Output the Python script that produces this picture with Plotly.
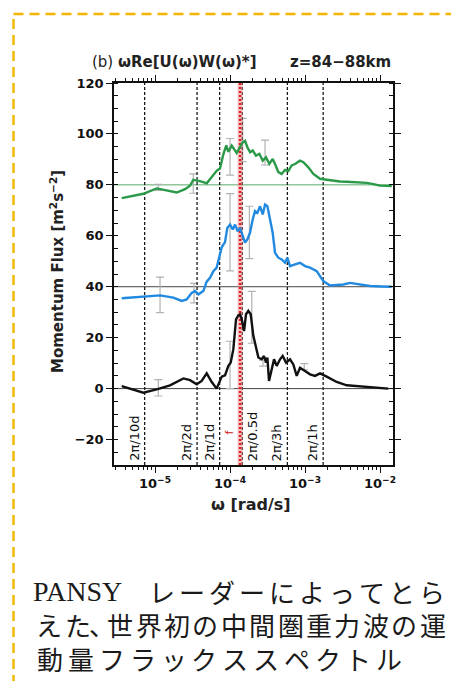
import numpy as np
import plotly.graph_objects as go

# ---------------- data ----------------
# log10 of angular frequency omega [rad/s] and momentum flux as plotted [m^2 s^-2]
black_logw = [-5.444, -5.156, -4.978, -4.800, -4.622, -4.533, -4.444, -4.378, -4.311, -4.244,
              -4.178, -4.111, -4.067, -4.022, -3.991, -3.956, -3.920, -3.889, -3.867, -3.844,
              -3.813, -3.787, -3.756, -3.724, -3.689, -3.653, -3.622, -3.578, -3.547, -3.520,
              -3.502, -3.480, -3.444, -3.413, -3.378, -3.333, -3.298, -3.253, -3.200, -3.156,
              -3.111, -3.067, -3.000, -2.933, -2.867, -2.800, -2.711, -2.578, -2.444, -2.267,
              -2.089, -1.889]
black_flux = [1.0, -1.6, -0.3, 1.3, 4.0, 3.3, 1.7, 3.0, 6.0, 2.6,
              0.0, 4.7, 5.2, 8.9, 10.2, 15.4, 27.2, 28.8, 29.2, 27.2,
              22.6, 29.2, 30.5, 29.2, 20.7, 15.4, 12.2, 11.5, 12.8, 10.2,
              12.2, 3.0, 7.6, 11.5, 8.9, 11.5, 12.8, 10.2, 11.5, 9.5,
              5.0, 8.2, 6.9, 5.6, 5.0, 6.0, 4.7, 2.6, 1.3, 0.8,
              0.3, 0.0]

blue_logw = [-5.444, -5.156, -4.933, -4.756, -4.644, -4.578, -4.511, -4.467, -4.422, -4.356,
             -4.311, -4.267, -4.222, -4.178, -4.133, -4.111, -4.067, -4.036, -4.000, -3.964,
             -3.933, -3.898, -3.867, -3.831, -3.800, -3.769, -3.733, -3.698, -3.667, -3.636,
             -3.600, -3.564, -3.533, -3.502, -3.467, -3.431, -3.400, -3.356, -3.311, -3.267,
             -3.236, -3.200, -3.133, -3.067, -3.000, -2.933, -2.844, -2.756, -2.667, -2.578,
             -2.489, -2.400, -2.311, -2.133, -1.980, -1.844]
blue_flux = [35.5, 36.0, 36.6, 35.7, 34.4, 35.0, 37.6, 38.3, 37.0, 38.3,
             42.0, 43.5, 46.1, 47.5, 53.0, 55.5, 57.5, 63.1, 64.4, 62.5,
             64.4, 61.8, 63.1, 59.9, 57.3, 58.6, 61.2, 66.4, 69.7, 69.0,
             71.6, 68.4, 72.3, 71.6, 66.4, 61.2, 53.3, 51.4, 50.7, 49.4,
             51.4, 48.1, 48.8, 49.4, 48.1, 47.5, 46.1, 42.2, 40.5, 40.7,
             40.9, 41.5, 41.2, 40.3, 40.1, 40.0]

green_logw = [-5.444, -5.156, -4.978, -4.822, -4.711, -4.600, -4.533, -4.489, -4.444, -4.378,
              -4.311, -4.244, -4.178, -4.133, -4.089, -4.050, -4.022, -3.978, -3.947, -3.911,
              -3.867, -3.831, -3.800, -3.769, -3.733, -3.698, -3.653, -3.609, -3.564, -3.520,
              -3.476, -3.431, -3.400, -3.356, -3.311, -3.267, -3.222, -3.178, -3.133, -3.067,
              -3.022, -2.956, -2.889, -2.800, -2.711, -2.622, -2.533, -2.444, -2.356, -2.267,
              -2.178, -2.089, -2.000, -1.844]
green_flux = [74.8, 76.5, 78.6, 77.6, 77.0, 78.3, 79.7, 82.0, 81.8, 81.3,
              80.6, 83.0, 85.5, 86.5, 92.0, 95.5, 93.0, 95.4, 94.1, 92.5,
              94.8, 96.7, 97.3, 94.8, 92.8, 93.5, 91.5, 92.2, 89.5, 90.8,
              88.2, 90.2, 88.2, 85.0, 84.3, 85.9, 85.4, 87.6, 88.2, 89.5,
              88.9, 86.9, 84.3, 82.4, 82.0, 81.6, 81.3, 81.2, 81.0, 80.9,
              80.8, 80.3, 79.7, 79.5]

# error bars: position (log10 omega), centre, half length
black_err_logw = [-4.956, -4.000, -3.710, -3.560, -3.010]
black_err_mid = [0.3, 9.3, 28.0, 10.0, 8.6]
black_err_half = [3.2, 9.3, 10.2, 1.2, 1.2]

blue_err_logw = [-4.933, -4.480, -4.000, -3.742]
blue_err_mid = [36.8, 37.5, 61.4, 61.3]
blue_err_half = [7.0, 3.8, 15.2, 10.3]

green_err_logw = [-4.956, -4.490, -4.000, -3.831, -3.533]
green_err_mid = [79.0, 80.5, 91.0, 97.6, 92.7]
green_err_half = [1.2, 3.8, 7.2, 8.5, 4.9]

baselines = [0, 40, 80]

# reference periods (s) and their labels
period_labels = ["2π/10d", "2π/2d", "2π/1d", "2π/0.5d", "2π/3h", "2π/1h"]
periods_s = [10 * 86400, 2 * 86400, 86400, 43200, 3 * 3600, 3600]
earth_rot = 7.2921e-5
latitude = 69.0  # Syowa station
f_inertial = 2 * earth_rot * np.sin(np.deg2rad(latitude))

x_ticks = [1e-5, 1e-4, 1e-3, 1e-2]
x_tick_text = ["10<sup>−5</sup>", "10<sup>−4</sup>", "10<sup>−3</sup>", "10<sup>−2</sup>"]

caption_latin = "PANSY"
caption_lines = ["レーダーによってとら", "えた、世界初の中間圏重力波の運", "動量フラックススペクトル"]

# ---------------- layout geometry ----------------
W, H = 451, 681
L, R, T, B = 114, 58, 83, 216
PW, PH = W - L - R, H - T - B


def px_x(px):
    return (px - L) / PW


def px_y(py):
    return (H - B - py) / PH


CHART_FONT = "DejaVu Sans"
GREEN = "#2b9a48"
BLUE = "#2189e0"

fig = go.Figure()


def add_err(logw, mid, half):
    fig.add_trace(go.Scatter(
        x=[10 ** v for v in logw], y=mid, mode="markers",
        marker=dict(size=1, color="rgba(0,0,0,0)"),
        error_y=dict(type="data", array=half, color="#b2b2b2", thickness=1.2, width=4),
        showlegend=False, hoverinfo="skip"))


add_err(green_err_logw, green_err_mid, green_err_half)
add_err(blue_err_logw, blue_err_mid, blue_err_half)
add_err(black_err_logw, black_err_mid, black_err_half)

# vertical reference lines
for p in periods_s:
    w = 2 * np.pi / p
    fig.add_trace(go.Scatter(x=[w, w], y=[-30, 120], mode="lines",
                             line=dict(color="#1a1a1a", width=1.3, dash="3px,2px"),
                             showlegend=False, hoverinfo="skip"))

# inertial frequency line
fig.add_trace(go.Scatter(x=[f_inertial, f_inertial], y=[-30, 120], mode="lines",
                         line=dict(color="rgba(240,140,140,0.55)", width=5),
                         showlegend=False, hoverinfo="skip"))
fig.add_trace(go.Scatter(x=[f_inertial, f_inertial], y=[-30, 120], mode="lines",
                         line=dict(color="#d42020", width=2.5, dash="2px,2px"),
                         showlegend=False, hoverinfo="skip"))

# spectra
for logw, flux, col in [(green_logw, green_flux, GREEN),
                        (blue_logw, blue_flux, BLUE),
                        (black_logw, black_flux, "#111111")]:
    fig.add_trace(go.Scatter(x=[10 ** v for v in logw], y=flux, mode="lines",
                             line=dict(color=col, width=2.4),
                             showlegend=False, hoverinfo="skip"))

# baselines
for yb, col in zip(baselines, ["#444444", "#444444", "#5aa86a"]):
    fig.add_shape(type="line", xref="paper", yref="y", x0=0, x1=1, y0=yb, y1=yb,
                  line=dict(color=col, width=1), layer="below")

# period labels
for lab, p in zip(period_labels, periods_s):
    w = 2 * np.pi / p
    right_side = lab == "2π/0.5d"
    fig.add_annotation(x=np.log10(w), y=-30, xref="x", yref="y", text=lab,
                       textangle=-90, showarrow=False,
                       xanchor="left" if right_side else "right", yanchor="bottom",
                       xshift=1 if right_side else -1, yshift=2,
                       font=dict(family=CHART_FONT, size=13, color="#111"))
fig.add_annotation(x=np.log10(f_inertial), y=-17, xref="x", yref="y", text="f",
                   textangle=-90, showarrow=False, xanchor="right", yanchor="middle",
                   xshift=-2, font=dict(family=CHART_FONT, size=11, color="#d42020"))

# titles
fig.add_annotation(xref="paper", yref="paper", x=px_x(90), y=px_y(62), xanchor="left",
                   yanchor="middle", showarrow=False, text="(b) <b>ωRe[U(ω)W(ω)*]</b>",
                   font=dict(family=CHART_FONT, size=15, color="#222"))
fig.add_annotation(xref="paper", yref="paper", x=px_x(393), y=px_y(62), xanchor="right",
                   yanchor="middle", showarrow=False, text="<b>z=84−88km</b>",
                   font=dict(family=CHART_FONT, size=15, color="#222"))
fig.add_annotation(xref="paper", yref="paper", x=px_x(57), y=px_y(271), textangle=-90,
                   xanchor="center", yanchor="middle", showarrow=False,
                   text="<b>Momentum Flux [m<sup>2</sup>s<sup>−2</sup>]</b>",
                   font=dict(family=CHART_FONT, size=15, color="#222"))
fig.add_annotation(xref="paper", yref="paper", x=px_x(251), y=px_y(505),
                   xanchor="center", yanchor="middle", showarrow=False,
                   text="<b>ω [rad/s]</b>",
                   font=dict(family=CHART_FONT, size=16, color="#222"))

# caption (Japanese)
JP_SIZE = 26
JP_FONT = "Noto Sans CJK JP"


def place_chars(chars, x_left, pitch, y_center):
    x = x_left
    for ch in chars:
        if ch == "、":
            fig.add_annotation(xref="paper", yref="paper", x=px_x(x - 3), y=px_y(y_center),
                               xanchor="left", yanchor="middle", showarrow=False, text=ch,
                               borderpad=0, borderwidth=0,
                               font=dict(family=JP_FONT, size=JP_SIZE, color="#1a1a1a"))
            x += pitch * 0.5
        else:
            fig.add_annotation(xref="paper", yref="paper", x=px_x(x + pitch / 2),
                               y=px_y(y_center), xanchor="center", yanchor="middle",
                               showarrow=False, text=ch, borderpad=0, borderwidth=0,
                               font=dict(family=JP_FONT, size=JP_SIZE, color="#1a1a1a"))
            x += pitch


fig.add_annotation(xref="paper", yref="paper", x=px_x(33), y=px_y(591), xanchor="left",
                   yanchor="middle", showarrow=False, text=caption_latin,
                   borderpad=0, borderwidth=0,
                   font=dict(family="Liberation Serif", size=28, color="#1a1a1a"))
place_chars(caption_lines[0], 147, 30.0, 591)
place_chars(caption_lines[1], 35, 28.4, 624)
place_chars(caption_lines[2], 35, 30.8, 658)

# dashed frame
fig.add_shape(type="rect", xref="paper", yref="paper",
              x0=px_x(13.5), x1=px_x(475), y0=px_y(14), y1=px_y(720),
              line=dict(color="#f5b400", width=2.5, dash="10px,6px"), layer="above")

minor_x = [k * 10.0 ** e for e in range(-6, -1) for k in range(2, 10)]

fig.update_layout(
    width=W, height=H, margin=dict(l=L, r=R, t=T, b=B, autoexpand=False),
    paper_bgcolor="white", plot_bgcolor="white", showlegend=False,
    xaxis=dict(type="log", range=[-5.547, -1.827], tickmode="array", tickvals=x_ticks,
               ticktext=x_tick_text, ticks="outside", ticklen=6, tickwidth=1.2,
               tickcolor="#111", showline=True, linecolor="#111", linewidth=1.5,
               mirror="ticks", showgrid=False, zeroline=False,
               minor=dict(tickmode="array", tickvals=minor_x, ticks="outside",
                          ticklen=3, tickwidth=1, tickcolor="#111", showgrid=False),
               tickfont=dict(family=CHART_FONT, size=13, color="#111", weight="bold")),
    yaxis=dict(range=[-30, 120], tick0=0, dtick=20, ticks="outside", ticklen=6,
               tickwidth=1.2, tickcolor="#111", showline=True, linecolor="#111",
               linewidth=1.5, mirror="ticks", showgrid=False, zeroline=False,
               minor=dict(dtick=5, ticks="inside", ticklen=4, tickwidth=1,
                          tickcolor="#111", showgrid=False),
               tickfont=dict(family=CHART_FONT, size=13, color="#111", weight="bold")),
)

fig.write_html(
    "out.html",
    config={"displayModeBar": False},
    post_script="document.body.style.margin='0px';document.body.style.overflow='hidden';",
)
